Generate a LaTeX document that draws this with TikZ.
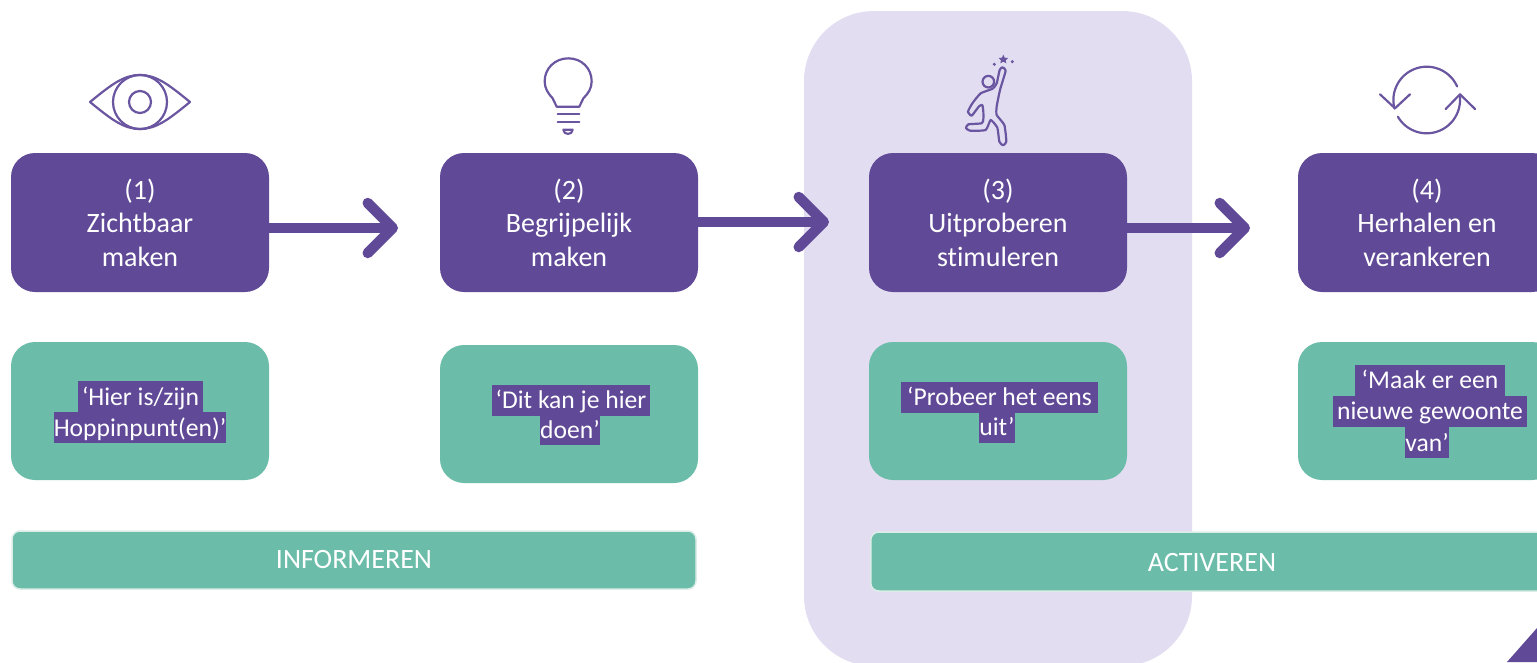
\documentclass[tikz,border=0pt]{standalone}
\usepackage{fontspec}
\setmainfont[Ligatures=NoCommon]{Carlito}
\usetikzlibrary{arrows.meta}
\definecolor{hpurple}{HTML}{604A97}
\definecolor{hgreen}{HTML}{6BBDAA}
\definecolor{hband}{HTML}{E3DDF2}
\definecolor{hedge}{HTML}{DCEDE8}
\definecolor{hicon}{HTML}{6A56A0}
\tikzset{
  purplebox/.style={fill=hpurple,rounded corners=24pt,minimum width=258pt,minimum height=139pt,inner sep=0pt,text=white,align=center,font=\fontsize{28}{33.5}\selectfont},
  greenbox/.style={fill=hgreen,rounded corners=24pt,minimum width=258pt,minimum height=138pt,inner sep=0pt},
  barbox/.style={fill=hgreen,draw=hedge,line width=1.5pt,rounded corners=8pt,inner sep=0pt,text=white,font=\fontsize{28}{30}\selectfont},
  hilite/.style={fill=hpurple,text=white,inner sep=0pt,text height=24pt,text depth=7pt,font=\fontsize{25.6}{30}\selectfont},
  flowline/.style={hpurple,line width=10pt,-{Straight Barb[length=25pt,width=50pt,line width=10.5pt,round]}},
  iconline/.style={hicon,line width=2.2pt,line cap=round,line join=round},
}
\begin{document}
\begin{tikzpicture}[x=1pt,y=-1pt]
\useasboundingbox (0,0) rectangle (1537,662);
\clip (0,0) rectangle (1537,662);
% band
\fill[hband,rounded corners=70pt] (804,11) rectangle (1192,666);
% purple boxes
\node[purplebox] (p1) at (140,222.5) {\raisebox{-1pt}{(1)}\\\raisebox{-1pt}{Zichtbaar}\\\raisebox{-1pt}{maken}};
\node[purplebox] (p2) at (569,222.5) {\raisebox{-1pt}{(2)}\\\raisebox{-1pt}{Begrijpelijk}\\\raisebox{-1pt}{maken}};
\node[purplebox] (p3) at (998,222.5) {\raisebox{-1pt}{(3)}\\\raisebox{-1pt}{Uitproberen}\\\raisebox{-1pt}{stimuleren}};
\node[purplebox] (p4) at (1427,222.5) {\raisebox{-1pt}{(4)}\\\raisebox{-1pt}{Herhalen en}\\\raisebox{-1pt}{verankeren}};
% green boxes
\node[greenbox] (g1) at (140,411) {};
\node[greenbox] (g2) at (569,414) {};
\node[greenbox] (g3) at (998,411) {};
\node[greenbox] (g4) at (1427,411) {};
% highlighted lines
\node[hilite,minimum width=125pt] (t1a) at (140.5,396.5) {‘Hier is/zijn};
\node[hilite,minimum width=172pt] (t1b) at (140,427.5) {Hoppinpunt(en)’};
\node[hilite,minimum width=158pt] (t2a) at (571,400) {‘Dit kan je hier};
\node[hilite,minimum width=60pt] (t2b) at (570,429.5) {doen’};
\node[hilite,minimum width=197pt] (t3a) at (999.5,397) {‘Probeer het eens};
\node[hilite,minimum width=36pt] (t3b) at (997,427) {uit’};
\node[hilite,minimum width=150pt] (t4a) at (1430,380) {‘Maak er een};
\node[hilite,minimum width=194pt] (t4b) at (1430,411) {nieuwe gewoonte};
\node[hilite,minimum width=44pt] (t4c) at (1427,442.5) {van’};
% bars
\node[barbox,minimum width=684pt,minimum height=58pt] (b1) at (354,560) {\raisebox{-1.5pt}{INFORMEREN}};
\node[barbox,minimum width=684pt,minimum height=59pt,anchor=west] (b2) at (870,561.5) {};
\node[text=white,font=\fontsize{28}{30}\selectfont,inner sep=0pt] (b2t) at (1212,563) {ACTIVEREN};
% arrows
\coordinate (tip1) at (398,228);
\coordinate (tip2) at (829,222);
\coordinate (tip3) at (1250,228);
\draw[flowline] (p1.east |- tip1) -- (tip1);
\draw[flowline] (p2.east |- tip2) -- (tip2);
\draw[flowline] (p3.east |- tip3) -- (tip3);
% eye
\draw[iconline] (90,102) .. controls (112,84) and (124,75) .. (140,75) .. controls (156,75) and (168,84) .. (190,102) .. controls (168,120) and (156,129) .. (140,129) .. controls (124,129) and (112,120) .. (90,102) -- cycle;
\draw[iconline] (140,102) circle[radius=27pt];
\draw[iconline] (140,102) circle[radius=11pt];
% bulb
\begin{scope}[shift={(510,40)},x=.3333pt,y=-.3333pt]
\draw[iconline] (140,200) -- (208,200) -- (220,175)
  .. controls (235,160) and (245,145) .. (245,124)
  .. controls (245,85) and (215,55) .. (175,55)
  .. controls (135,55) and (104,85) .. (104,124)
  .. controls (104,145) and (114,160) .. (128,175) -- cycle;
\draw[iconline] (143,222) -- (208,222);
\draw[iconline] (143,245) -- (208,245);
\draw[iconline] (160,269) -- (188,269) .. controls (188,286) and (160,286) .. (160,269) -- cycle;
\end{scope}
% person
\begin{scope}[shift={(940,40)},x=.3333pt,y=-.3333pt]
\draw[iconline] (145,125) circle[radius=5.8pt];
\draw[iconline] plot[smooth cycle,tension=.3] coordinates {(179,90) (170,130) (158,146) (122,160) (97,190) (84,215) (95,227) (117,199) (127,195) (130,215) (130,238) (125,250) (85,253) (78,264) (90,272) (137,270) (152,240) (172,263) (178,305) (189,316) (199,305) (193,255) (170,225) (170,200) (180,150) (197,92) (187,82)};
\fill[hicon] (190,44) -- (194,53) -- (204,54) -- (197,61) -- (199,70) -- (190,65) -- (181,70) -- (183,61) -- (176,54) -- (186,53) -- cycle;
\fill[hicon] (163,73) circle[radius=1.7pt];
\fill[hicon] (217,65) circle[radius=1.7pt];
\end{scope}
% cycle
\draw[iconline] plot[domain=24:195,samples=50] ({1426.7+33.3*cos(\x)},{100-33.3*sin(\x)});
\draw[iconline] plot[domain=210:368,samples=50] ({1426.7+33.3*cos(\x)},{100-33.3*sin(\x)});
\draw[iconline] (1380,94.3) -- (1395,108.3) -- (1410,94.3);
\draw[iconline] (1445.7,109) -- (1460,94.3) -- (1475,109);
% corner
\fill[hpurple] (1537,628) -- (1507,662) -- (1537,662) -- cycle;
\end{tikzpicture}
\end{document}
